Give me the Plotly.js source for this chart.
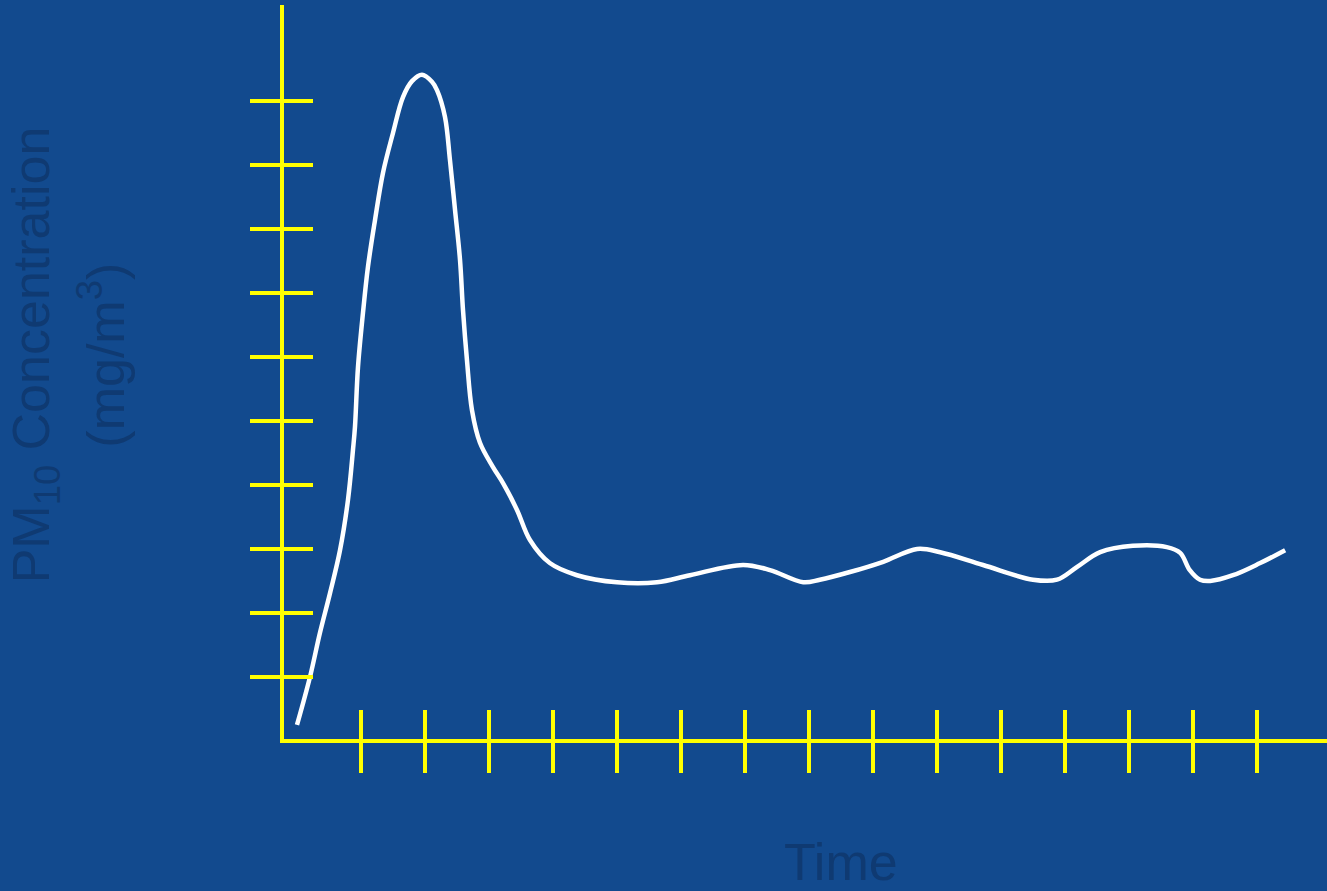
<!DOCTYPE html>
<html>
<head>
<meta charset="utf-8">
<script src="https://cdn.plot.ly/plotly-3.0.1.min.js"></script>
<style>
html,body{margin:0;padding:0;background:#124a8e;}
#chart{width:1327px;height:891px;}
</style>
</head>
<body>
<div id="chart"></div>
<script>
// Time (tick units) and PM10 concentration (tick units)
var timeVals = [0, 0.203, 0.359, 0.516, 0.672, 0.797, 0.875, 0.906, 0.953, 1.031, 1.109, 1.219, 1.344, 1.5, 1.656, 1.797, 1.953, 2.109, 2.1875, 2.3125, 2.39, 2.469, 2.547, 2.594, 2.656, 2.734, 2.859, 3.0625, 3.219, 3.4375, 3.64, 3.95, 4.375, 5.0, 5.625, 6.14, 6.97, 7.39, 7.91, 8.17, 8.64, 9.16, 9.69, 10.05, 10.72, 11.5, 11.875, 12.19, 12.55, 13.06, 13.59, 13.80, 13.95, 14.11, 14.27, 14.625, 15.05, 15.44];
var concVals = [0.25, 1.0, 1.69, 2.31, 2.98, 3.77, 4.55, 4.91, 5.84, 6.69, 7.41, 8.14, 8.88, 9.5, 10.06, 10.31, 10.41, 10.30, 10.17, 9.75, 9.08, 8.30, 7.52, 6.73, 5.95, 5.17, 4.66, 4.28, 4.03, 3.61, 3.14, 2.78, 2.59, 2.48, 2.48, 2.59, 2.75, 2.67, 2.48, 2.52, 2.64, 2.80, 3.0, 2.95, 2.75, 2.52, 2.52, 2.72, 2.95, 3.05, 3.03, 2.94, 2.67, 2.52, 2.5, 2.59, 2.78, 2.98];
var xTicks = [1, 2, 3, 4, 5, 6, 7, 8, 9, 10, 11, 12, 13, 14, 15];
var yTicks = [1, 2, 3, 4, 5, 6, 7, 8, 9, 10];
var yTitleLine1 = 'PM<sub>10</sub> Concentration';
var yTitleLine2 = '(mg/m<sup>3</sup>)';
var xTitle = 'Time';

var yellow = '#ffff00';
var titleColor = '#0f3a72';
var font = 'Liberation Sans, Arial, sans-serif';

var traces = [
  {
    x: timeVals, y: concVals, type: 'scatter', mode: 'lines',
    line: {color: '#ffffff', width: 4.5, shape: 'spline', smoothing: 1},
    hoverinfo: 'skip', showlegend: false
  },
  {
    x: [], y: [], type: 'scatter', mode: 'lines', xaxis: 'x2', yaxis: 'y2',
    hoverinfo: 'skip', showlegend: false
  }
];

var xRange = [-0.203, 16.094];
var yRange = [0.031, 11.5];

var layout = {
  width: 1327, height: 891,
  margin: {l: 284, r: 0, t: 5, b: 152, pad: 0},
  paper_bgcolor: '#124a8e',
  plot_bgcolor: 'rgba(0,0,0,0)',
  showlegend: false,
  xaxis: {
    range: xRange, showgrid: false, zeroline: false,
    showline: true, linecolor: yellow, linewidth: 4,
    ticks: 'outside', ticklen: 30, tickwidth: 4, tickcolor: yellow,
    tickmode: 'array', tickvals: xTicks, showticklabels: false, fixedrange: true
  },
  xaxis2: {
    range: xRange, overlaying: 'x', anchor: 'y2', side: 'bottom',
    showgrid: false, zeroline: false, showline: false,
    ticks: 'inside', ticklen: 29, tickwidth: 4, tickcolor: yellow,
    tickmode: 'array', tickvals: xTicks, showticklabels: false, fixedrange: true
  },
  yaxis: {
    range: yRange, showgrid: false, zeroline: false,
    showline: true, linecolor: yellow, linewidth: 4,
    ticks: 'outside', ticklen: 30, tickwidth: 4, tickcolor: yellow,
    tickmode: 'array', tickvals: yTicks, showticklabels: false, fixedrange: true
  },
  yaxis2: {
    range: yRange, overlaying: 'y', anchor: 'x2', side: 'left',
    showgrid: false, zeroline: false, showline: false,
    ticks: 'inside', ticklen: 29, tickwidth: 4, tickcolor: yellow,
    tickmode: 'array', tickvals: yTicks, showticklabels: false, fixedrange: true
  },
  annotations: [
    {
      text: yTitleLine1, xref: 'paper', yref: 'paper', x: -0.2385, y: 0.523,
      xanchor: 'center', yanchor: 'middle', textangle: -90, showarrow: false,
      font: {family: font, size: 52, color: titleColor}
    },
    {
      text: yTitleLine2, xref: 'paper', yref: 'paper', x: -0.174, y: 0.523,
      xanchor: 'center', yanchor: 'middle', textangle: -90, showarrow: false,
      font: {family: font, size: 52, color: titleColor}
    },
    {
      text: xTitle, xref: 'paper', yref: 'paper', x: 0.534, y: -0.168,
      xanchor: 'center', yanchor: 'middle', showarrow: false,
      font: {family: font, size: 52, color: titleColor}
    }
  ]
};

Plotly.newPlot('chart', traces, layout, {displayModeBar: false, staticPlot: true});
</script>
</body>
</html>
